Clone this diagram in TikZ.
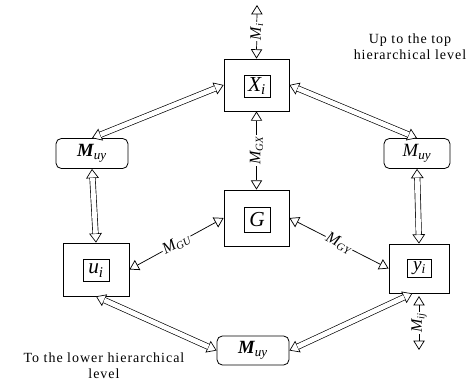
\documentclass[tikz,border=0pt]{standalone}
\usepackage{fontspec}
\setmainfont{Liberation Serif}
\usetikzlibrary{arrows.meta}
\newcommand\dblarr[2]{%
  \draw[tipline] (#1) -- (#2);
  \draw[dblbody] (#1) -- (#2);}
\begin{document}
\begin{tikzpicture}[x=0.75pt,y=-0.75pt,
  outer/.style={draw, line width=0.6pt, inner sep=0pt},
  lab/.style={draw, line width=0.6pt, inner sep=1pt, font=\fontsize{16}{17}\selectfont\itshape},
  muy/.style={draw, rounded corners=4pt, line width=0.6pt, inner sep=0pt, minimum height=22.5pt, font=\fontsize{14}{15}\selectfont\itshape},
  tipline/.style={line width=0.5pt, {Triangle[fill=white,length=7pt,width=9.5pt]}-{Triangle[fill=white,length=7pt,width=9.5pt]}},
  dblbody/.style={double, double distance=3.6pt, line width=0.5pt, shorten <=6.8pt, shorten >=6.8pt},
  thinarr/.style={line width=0.55pt, {Triangle[open,length=7pt,width=8.5pt]}-{Triangle[open,length=7pt,width=8.5pt]}},
  tag/.style={fill=white, inner sep=0.8pt, font=\fontsize{12}{13}\selectfont\itshape},
  note/.style={align=center, inner sep=0pt, font=\fontsize{10.5}{12}\selectfont\addfontfeature{LetterSpace=7}}]
\useasboundingbox (0,0) rectangle (474,385);

% main boxes
\node[outer, minimum width=48.75pt, minimum height=39pt] (X) at (256.5,85) {};
\node[lab, minimum width=19.5pt, minimum height=16.5pt] (Xl) at (257,86) {X\textsubscript{i}};
\node[outer, minimum width=48.75pt, minimum height=42pt] (G) at (256.5,218) {};
\node[lab, minimum width=19.5pt, minimum height=18.5pt] (Gl) at (257,220) {G};
\node[outer, minimum width=49.5pt, minimum height=39.75pt] (u) at (96,269.5) {};
\node[lab, minimum width=19.5pt, minimum height=17pt] (ul) at (96,270.5) {u\textsubscript{i}};
\node[outer, minimum width=45pt, minimum height=36.75pt] (y) at (419,268.5) {};
\node[lab, minimum width=17.5pt, minimum height=13.5pt, font=\fontsize{14.5}{15}\selectfont\itshape] (yl) at (419.5,268) {y\textsubscript{i}};

% M_uy boxes
\node[muy, minimum width=54pt] (mL) at (92,153.5) {{\bfseries M}\textsubscript{uy}};
\node[muy, minimum width=49.5pt] (mR) at (417,153.5) {M\textsubscript{uy}};
\node[muy, minimum width=54pt, minimum height=21.75pt] (mB) at (253,350.5) {{\bfseries M}\textsubscript{uy}};

% free ends
\coordinate (mi) at (257,5);
\coordinate (mij) at (419,350);

% thin connectors
\draw[thinarr] (mi) -- (X.north) node[tag, midway, rotate=90] {M\textsubscript{i}};
\draw[thinarr] (X.south) -- (G.north) node[tag, midway, rotate=90] {M\textsubscript{GX}};
\draw[thinarr] (G.west) -- (u.east) node[tag, midway, sloped] {M\textsubscript{GU}};
\draw[thinarr] (G.east) -- (y.west) node[tag, midway, sloped] {M\textsubscript{GY}};
\draw[thinarr] ([yshift=-2pt]y.south) -- (mij) node[tag, midway, rotate=90] {M\textsubscript{ij}};

% double connectors
\dblarr{X.west}{mL.north}
\dblarr{X.east}{mR.north}
\dblarr{mL.south}{u.north}
\dblarr{mR.south}{y.north}
\dblarr{u.south}{mB.west}
\dblarr{[xshift=-5pt]y.south}{mB.east}

% notes
\node[note] (up) at (410,47) {Up to the top\\hierarchical level};
\node[note] (low) at (104,366) {To the lower hierarchical\\level};
\end{tikzpicture}
\end{document}
